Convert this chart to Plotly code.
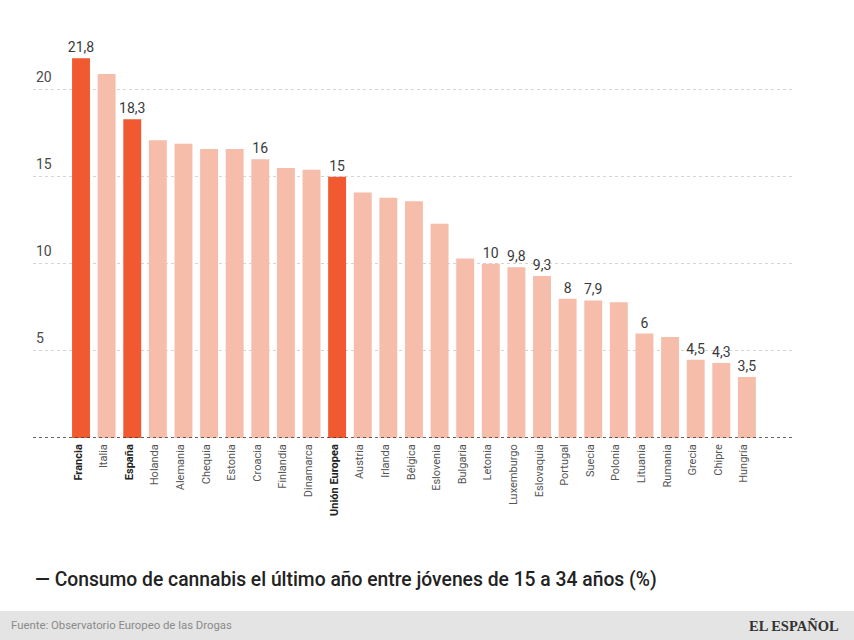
import plotly.graph_objects as go

paises = ['Francia', 'Italia', 'España', 'Holanda', 'Alemania', 'Chequia', 'Estonia', 'Croacia', 'Finlandia',
          'Dinamarca', 'Unión Europea', 'Austria', 'Irlanda', 'Bélgica', 'Eslovenia', 'Bulgaria', 'Letonia',
          'Luxemburgo', 'Eslovaquia', 'Portugal', 'Suecia', 'Polonia', 'Lituania', 'Rumania', 'Grecia', 'Chipre',
          'Hungría']
valores = [21.8, 20.9, 18.3, 17.1, 16.9, 16.6, 16.6, 16, 15.5, 15.4, 15, 14.1, 13.8, 13.6, 12.3, 10.3, 10, 9.8,
           9.3, 8, 7.9, 7.8, 6, 5.8, 4.5, 4.3, 3.5]
etiquetas = ['21,8', '', '18,3', '', '', '', '', '16', '', '', '15', '', '', '', '', '', '10', '9,8', '9,3', '8',
             '7,9', '', '6', '', '4,5', '4,3', '3,5']
destacados = ['Francia', 'España', 'Unión Europea']
y_ticks = [5, 10, 15, 20]

W, H = 854, 640
colores = ['#f15a30' if p in destacados else '#f6bdaa' for p in paises]
ticktext = [f'<span style="color:#222222"><b>{p}</b></span>' if p in destacados else p for p in paises]

fig = go.Figure()
fig.add_trace(go.Bar(
    x=list(range(len(paises))), y=valores,
    marker=dict(color=colores, line_width=0),
    text=etiquetas, textposition='outside', cliponaxis=False, constraintext='none',
    textfont=dict(family='Roboto', size=14, color='#3a3a3a'),
    width=0.7
))

# baseline
fig.add_hline(y=0, line=dict(color='#333333', width=1.5, dash='dot'), layer='above')

fig.update_layout(
    width=W, height=H, autosize=False,
    margin=dict(l=33, r=61, t=20, b=202),
    paper_bgcolor='white', plot_bgcolor='white',
    showlegend=False,
    font=dict(family='Roboto'),
    xaxis=dict(
        range=[-1.875, 27.8], tickmode='array', tickvals=list(range(len(paises))), ticktext=ticktext,
        tickangle=-90, tickfont=dict(family='Roboto', size=11, color='#555555'),
        showgrid=False, zeroline=False, showline=False, ticks='', ticklabelstandoff=3, ticklabelshift=-3
    ),
    yaxis=dict(
        range=[0, 24], tickmode='array', tickvals=y_ticks, ticklabelposition='inside top', ticklabelshift=-3,
        tickfont=dict(family='Roboto', size=14, color='#4a4a4a'),
        showgrid=True, gridcolor='#d4d4d4', griddash='dot', gridwidth=1, zeroline=False, ticks=''
    )
)

# footer band
fig.add_shape(type='rect', xref='paper', yref='paper', x0=-33 / 760, x1=(W - 33) / 760,
              y0=-(640 - 438) / 418, y1=-(611 - 438) / 418,
              fillcolor='#e4e4e4', line_width=0, layer='below')

fig.add_annotation(text='— Consumo de cannabis el último año entre jóvenes de 15 a 34 años (%)',
                   xref='paper', yref='paper', x=(33 - 33) / 760, y=-(579 - 438) / 418,
                   xanchor='left', yanchor='middle', showarrow=False,
                   font=dict(family='Roboto', size=19.3, color='#222222', weight=500))
fig.add_annotation(text='Fuente: Observatorio Europeo de las Drogas',
                   xref='paper', yref='paper', x=(9 - 33) / 760, y=-(625 - 438) / 418,
                   xanchor='left', yanchor='middle', showarrow=False,
                   font=dict(family='Roboto', size=11.35, color='#8a8a8a'))
fig.add_annotation(text='EL ESPAÑOL',
                   xref='paper', yref='paper', x=(841 - 33) / 760, y=-(625 - 438) / 418,
                   xanchor='right', yanchor='middle', showarrow=False,
                   font=dict(family='Liberation Serif', size=14.5, color='#333333', weight=700))

# page margin off so the band reaches the window edges
fig.write_html('out.html', config=dict(displayModeBar=False), post_script="document.body.style.margin='0';")
